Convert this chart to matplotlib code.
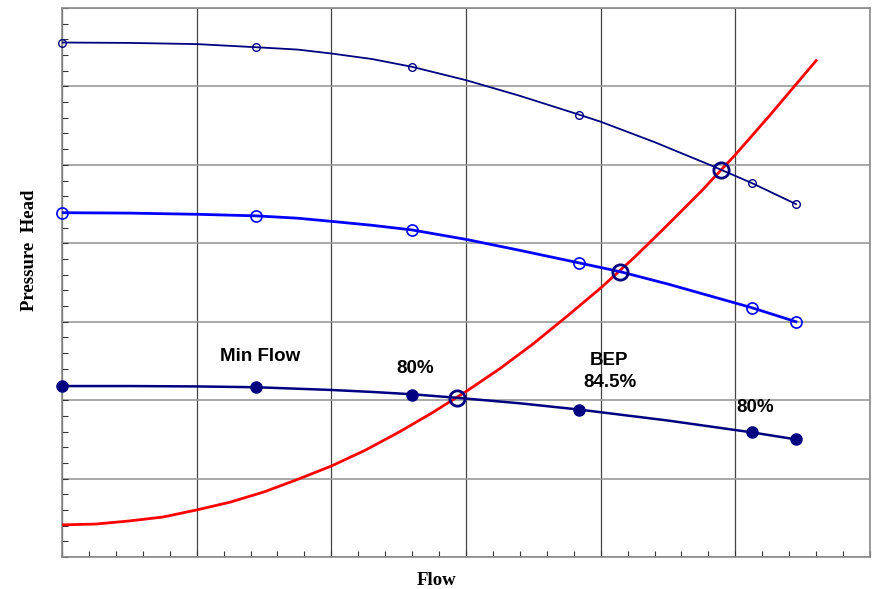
import matplotlib
matplotlib.use("Agg")
import matplotlib.pyplot as plt
from matplotlib.ticker import MultipleLocator, NullFormatter

# Test points on the three pump curves
flow_pts = [0.0, 1.44, 2.60, 3.84, 5.12, 5.45]
head_high = [6.56, 6.50, 6.25, 5.64, 4.77, 4.50]
head_mid = [4.39, 4.35, 4.17, 3.75, 3.18, 3.00]
head_low = [2.18, 2.17, 2.07, 1.88, 1.59, 1.50]

# Extra readings along each curve so the lines bend between test points
flow_high_line = [0.0, 0.5, 1.0, 1.44, 1.75, 2.0, 2.3, 2.6, 3.0, 3.4, 3.84,
                  4.0, 4.4, 4.81, 5.12, 5.45]
head_high_line = [6.56, 6.555, 6.54, 6.50, 6.47, 6.42, 6.35, 6.25, 6.08, 5.88,
                  5.64, 5.55, 5.29, 5.00, 4.77, 4.50]
flow_mid_line = [0.0, 0.5, 1.0, 1.44, 1.75, 2.0, 2.3, 2.6, 3.0, 3.4, 3.84,
                 4.14, 4.5, 5.12, 5.45]
head_mid_line = [4.39, 4.385, 4.37, 4.35, 4.32, 4.28, 4.23, 4.17, 4.05, 3.91,
                 3.75, 3.64, 3.48, 3.18, 3.00]
flow_low_line = [0.0, 0.5, 1.0, 1.44, 2.0, 2.3, 2.6, 2.935, 3.4, 3.84, 4.5,
                 5.12, 5.45]
head_low_line = [2.18, 2.18, 2.175, 2.165, 2.13, 2.105, 2.075, 2.03, 1.96,
                 1.88, 1.74, 1.59, 1.50]

# System curve
flow_sys = [0.0, 0.25, 0.5, 0.75, 1.0, 1.25, 1.5, 1.75, 2.0, 2.25, 2.5, 2.75,
            3.0, 3.25, 3.5, 3.75, 4.0, 4.25, 4.5, 4.75, 5.0, 5.25, 5.6]
head_sys = [0.41, 0.42, 0.46, 0.51, 0.60, 0.70, 0.83, 0.99, 1.16, 1.36, 1.59,
            1.84, 2.11, 2.40, 2.72, 3.07, 3.43, 3.82, 4.24, 4.67, 5.13, 5.62,
            6.33]

# Operating points (pump curve meets system curve)
op_flow = [4.89, 4.14, 2.935]
op_head = [4.93, 3.64, 2.03]

notes = [("Min Flow", 1.47, 2.56), ("80%", 2.62, 2.41), ("BEP", 4.06, 2.50),
         ("84.5%", 4.07, 2.22), ("80%", 5.15, 1.91)]

navy = "#000080"
blue = "#0000FF"

fig = plt.figure(figsize=(8.73, 5.89), dpi=100)
ax = fig.add_axes([0.071, 0.0543, 0.9256, 0.9321])

ax.plot(flow_sys, head_sys, color="red", lw=2.0, zorder=3)

ax.plot(flow_high_line, head_high_line, color=navy, lw=1.3, zorder=4)
ax.plot(flow_pts, head_high, ls="none", marker="o", ms=5.5, mfc="none",
        mec=navy, mew=1.0, zorder=5, clip_on=False)

ax.plot(flow_mid_line, head_mid_line, color=blue, lw=2.0, zorder=4)
ax.plot(flow_pts, head_mid, ls="none", marker="o", ms=8, mfc="none",
        mec=blue, mew=1.2, zorder=5, clip_on=False)

ax.plot(flow_low_line, head_low_line, color=navy, lw=1.8, zorder=4)
ax.plot(flow_pts, head_low, ls="none", marker="o", ms=8, mfc=navy,
        mec=navy, zorder=5, clip_on=False)

ax.plot(op_flow, op_head, ls="none", marker="o", ms=11, mfc="none",
        mec=navy, mew=2.0, zorder=6)

for txt, x, y in notes:
    ax.text(x, y, txt, ha="center", va="center", fontsize=13.5,
            fontweight="bold", family="Liberation Sans", color="black")

ax.set_xlim(0, 6)
ax.set_ylim(0, 7)
ax.xaxis.set_major_locator(MultipleLocator(1))
ax.xaxis.set_minor_locator(MultipleLocator(0.2))
ax.yaxis.set_major_locator(MultipleLocator(1))
ax.yaxis.set_minor_locator(MultipleLocator(0.2))
ax.xaxis.set_major_formatter(NullFormatter())
ax.yaxis.set_major_formatter(NullFormatter())
ax.tick_params(which="both", direction="in", length=4, width=0.8, color="#333333")

ax.grid(axis="x", which="major", color="#444444", lw=0.9)
ax.grid(axis="y", which="major", color="#9a9a9a", lw=1.2)
ax.set_axisbelow(True)
for s in ax.spines.values():
    s.set_color("#8a8a8a")
    s.set_linewidth(1.2)

fig.text(0.034, 0.575, "Pressure  Head", rotation=90, ha="center", va="center",
         fontsize=13.5, fontweight="bold", family="Liberation Serif")
fig.text(0.4995, 0.015, "Flow", ha="center", va="center",
         fontsize=13.5, fontweight="bold", family="Liberation Serif")

fig.savefig("out.png", dpi=100, facecolor="white")
